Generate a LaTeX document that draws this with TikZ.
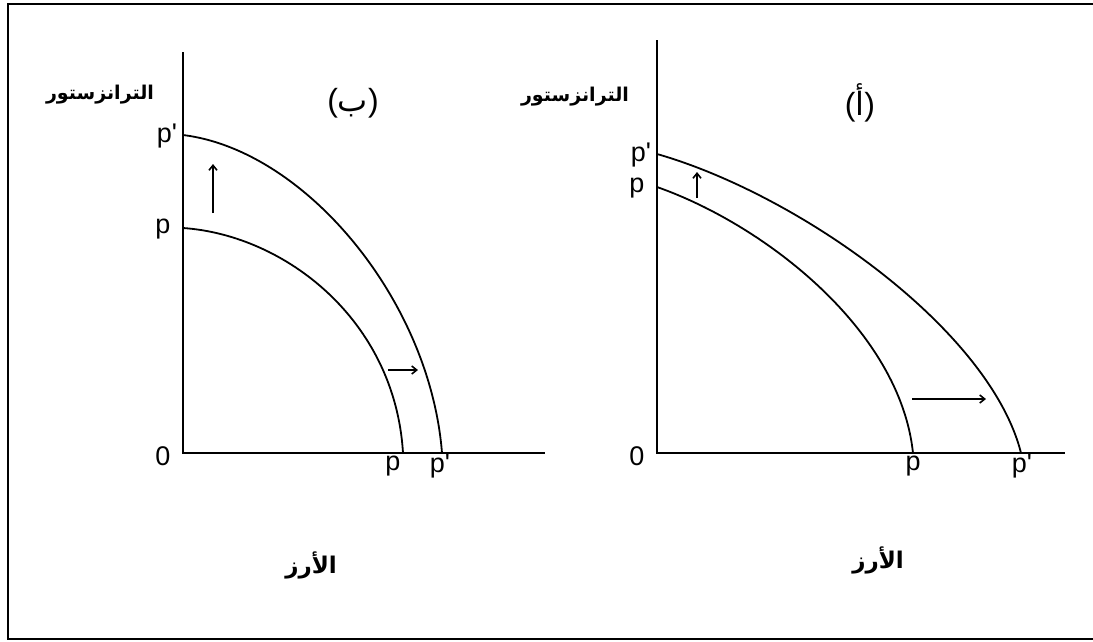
\documentclass[tikz,border=0pt]{standalone}
\usepackage{fontspec}
\setmainfont{Liberation Sans}[Ligatures=TeXOff]
\newfontfamily\arabicfont[Script=Arabic]{DejaVu Sans}
\TeXXeTstate=1
\usetikzlibrary{arrows.meta}
\begin{document}
\begin{tikzpicture}[x=1pt,y=-1pt,
  frame/.style={line width=2.2pt},
  axis/.style={line width=1.9pt},
  curve/.style={line width=1.8pt},
  shiftarrow/.style={line width=1.6pt,-{Straight Barb[length=5pt,width=8pt]}},
  lbl/.style={font=\fontsize{27}{30}\selectfont,inner sep=0pt},
  plbl/.style={font=\fontsize{32}{36}\selectfont,inner sep=0pt},
  arlbl/.style={font=\arabicfont\bfseries\fontsize{19}{22}\selectfont,inner sep=0pt},
  arxlbl/.style={font=\arabicfont\bfseries\fontsize{23}{26}\selectfont,inner sep=0pt}]
\useasboundingbox (0,0) rectangle (1093,641);
% frame
\coordinate (fTR) at (1093,4);
\coordinate (fTL) at (8,4);
\coordinate (fBL) at (8,639);
\coordinate (fBR) at (1093,639);
\draw[frame] (fTR) -- (fTL) -- (fBL) -- (fBR);

% ---------- left panel (b) ----------
\coordinate (bO) at (183,453);
\coordinate (bYt) at (183,52);
\coordinate (bXe) at (545,453);
\draw[axis] (bYt) -- (bO) -- (bXe);
\coordinate (bP1) at (183,228);
\coordinate (bP2) at (183,135);
\coordinate (bQ1) at (403,453);
\coordinate (bQ2) at (442,453);
\draw[curve] (bP1) .. controls (285,235) and (395,320) .. (bQ1);
\draw[curve] (bP2) .. controls (305,150) and (430,300) .. (bQ2);
\coordinate (bUa) at (213,213);
\coordinate (bUb) at (213,164);
\draw[shiftarrow] (bUa) -- (bUb);
\coordinate (bRa) at (388,370);
\coordinate (bRb) at (418,370);
\draw[shiftarrow] (bRa) -- (bRb);
\node[lbl] (b0) at (163,456) {0};
\node[lbl] (bpy) at (163,229) {p};
\node[lbl] (bpyy) at (167,136) {p'};
\node[lbl] (bpx) at (393,466) {p};
\node[lbl] (bpxx) at (440,466) {p'};
\node[plbl] (bt) at (353,103) {(\beginR{\arabicfont ب}\endR)};
\node[arlbl] (by) at (100,95) {\beginR الترانزستور\endR};
\node[arxlbl] (bx) at (311,565) {\beginR الأرز\endR};

% ---------- right panel (a) ----------
\coordinate (aO) at (657,453);
\coordinate (aYt) at (657,40);
\coordinate (aXe) at (1065,453);
\draw[axis] (aYt) -- (aO) -- (aXe);
\coordinate (aP1) at (657,187);
\coordinate (aP2) at (657,154);
\coordinate (aQ1) at (913,453);
\coordinate (aQ2) at (1021,453);
\draw[curve] (aP1) .. controls (765,225) and (900,330) .. (aQ1);
\draw[curve] (aP2) .. controls (800,195) and (990,330) .. (aQ2);
\coordinate (aUa) at (697,198);
\coordinate (aUb) at (697,172);
\draw[shiftarrow] (aUa) -- (aUb);
\coordinate (aRa) at (912,399);
\coordinate (aRb) at (986,399);
\draw[shiftarrow] (aRa) -- (aRb);
\node[lbl] (a0) at (637,456) {0};
\node[lbl] (apy) at (637,188) {p};
\node[lbl] (apyy) at (641,155) {p'};
\node[lbl] (apx) at (913,466) {p};
\node[lbl] (apxx) at (1022,466) {p'};
\node[plbl] (at) at (860,103) {(\beginR{\arabicfont أ}\endR)};
\node[arlbl] (ay) at (575,97) {\beginR الترانزستور\endR};
\node[arxlbl] (ax) at (878,560) {\beginR الأرز\endR};
\end{tikzpicture}
\end{document}
